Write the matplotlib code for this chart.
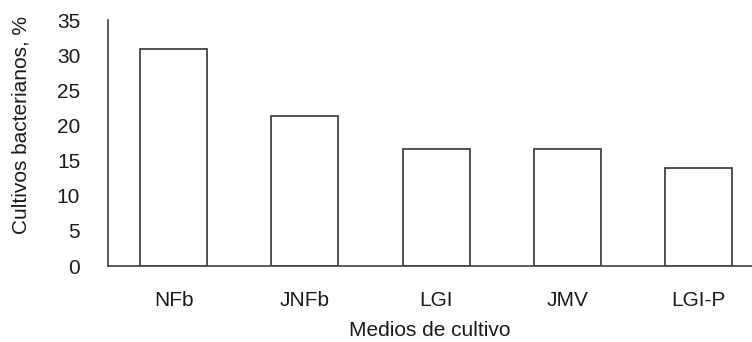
import matplotlib.pyplot as plt

medios = ['NFb', 'JNFb', 'LGI', 'JMV', 'LGI-P']
cultivos = [30.9, 21.3, 16.6, 16.6, 14.0]

plt.rcParams['font.family'] = ['Liberation Sans', 'DejaVu Sans']

fig = plt.figure(figsize=(7.52, 3.42), dpi=100)
ax = fig.add_axes([108 / 752, 1 - 266 / 342, 1 - 108 / 752, (266 - 20) / 342])

x = list(range(len(medios)))
ax.bar(x, cultivos, width=0.51, color='white', edgecolor='#333333', linewidth=1.2)

ax.set_xlim(-0.5, (752 - 173.5) / 131.25)
ax.set_ylim(0, 35)
ax.set_yticks(range(0, 36, 5))
ax.set_xticks(x)
ax.set_xticklabels(medios)

for s in ['top', 'right']:
    ax.spines[s].set_visible(False)
for s in ['left', 'bottom']:
    ax.spines[s].set_color('#404040')
    ax.spines[s].set_linewidth(1.2)

ax.tick_params(axis='both', length=0, labelsize=15, colors='#1a1a1a')
ax.tick_params(axis='y', pad=20)
ax.tick_params(axis='x', pad=18)

ax.set_xlabel('Medios de cultivo', fontsize=15, color='#1a1a1a')
ax.set_ylabel('Cultivos bacterianos, %', fontsize=15, color='#1a1a1a')
ax.xaxis.set_label_coords((430 - 108) / 644, -(331 - 266) / 246)
ax.yaxis.set_label_coords(-(108 - 21) / 644, (266 - 125) / 246)
ax.xaxis.label.set_va('center')
ax.yaxis.label.set_va('center')

fig.savefig('out.png', dpi=100)
